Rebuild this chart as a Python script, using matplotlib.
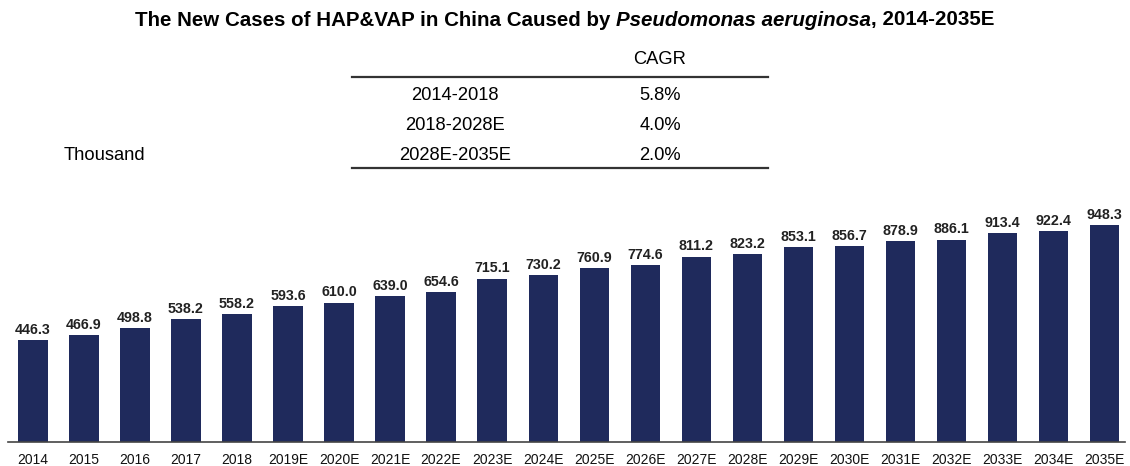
import matplotlib
matplotlib.use("Agg")
import matplotlib.pyplot as plt
import numpy as np

plt.rcParams['font.family'] = ['Liberation Sans', 'DejaVu Sans']

# datos
anios = ["2014", "2015", "2016", "2017", "2018", "2019E", "2020E", "2021E", "2022E",
         "2023E", "2024E", "2025E", "2026E", "2027E", "2028E", "2029E", "2030E",
         "2031E", "2032E", "2033E", "2034E", "2035E"]
casos = [446.3, 466.9, 498.8, 538.2, 558.2, 593.6, 610.0, 639.0, 654.6, 715.1, 730.2,
         760.9, 774.6, 811.2, 823.2, 853.1, 856.7, 878.9, 886.1, 913.4, 922.4, 948.3]
periodos = ["2014-2018", "2018-2028E", "2028E-2035E"]
cagr = ["5.8%", "4.0%", "2.0%"]

color_barra = "#1F2A5C"

W, H = 1130, 466
fig = plt.figure(figsize=(W / 100, H / 100), dpi=100)

# ejes de barras (en pixeles -> fraccion)
izq, der, abajo, arriba = 8, 1125, 442, 200
ax = fig.add_axes([izq / W, 1 - abajo / H, (der - izq) / W, (abajo - arriba) / H])
x = np.arange(len(anios))
ax.bar(x, casos, width=0.57, color=color_barra)
for xi, v in zip(x, casos):
    ax.text(xi, v + 14, f"{v:.1f}", ha="center", va="bottom", fontsize=10.3,
            fontweight="bold", color="#222222")
ax.set_xlim(-0.49, 21.41)
ax.set_ylim(0, 1059)
ax.set_xticks(x)
ax.set_xticklabels(anios, fontsize=10, color="#111111")
ax.tick_params(axis="x", length=0, pad=8)
ax.set_yticks([])
for s in ["top", "right", "left"]:
    ax.spines[s].set_visible(False)
ax.spines["bottom"].set_color("#444444")
ax.spines["bottom"].set_linewidth(1.2)

# titulo en tres partes (la del medio en italica)
renderer = fig.canvas.get_renderer()
partes = [("The New Cases of HAP&VAP in China Caused by ", "normal"),
          ("Pseudomonas aeruginosa", "italic"),
          (", 2014-2035E", "normal")]
tmp = []
total = 0
for txt, estilo in partes:
    t = fig.text(0, 0, txt, fontsize=14.8, fontweight="bold", style=estilo)
    w = t.get_window_extent(renderer).width
    tmp.append((t, w))
    total += w
xpos = 565 - total / 2
for t, w in tmp:
    t.set_position((xpos / W, 1 - 20 / H))
    t.set_va("center")
    xpos += w

# tabla CAGR
def fy(py):
    return 1 - py / H

fs_tabla = 13.2
fig.text(660 / W, fy(60), "CAGR", ha="center", va="center", fontsize=fs_tabla)
fig.add_artist(plt.Line2D([352 / W, 768 / W], [fy(77), fy(77)], color="#333333", lw=1.6))
fig.add_artist(plt.Line2D([352 / W, 768 / W], [fy(168), fy(168)], color="#333333", lw=1.6))
for i, (p, c) in enumerate(zip(periodos, cagr)):
    yy = fy(96 + i * 29.5)
    fig.text(455 / W, yy, p, ha="center", va="center", fontsize=fs_tabla)
    fig.text(660 / W, yy, c, ha="center", va="center", fontsize=fs_tabla)

fig.text(104 / W, fy(156), "Thousand", ha="center", va="center", fontsize=fs_tabla)

fig.savefig("out.png", dpi=100)
